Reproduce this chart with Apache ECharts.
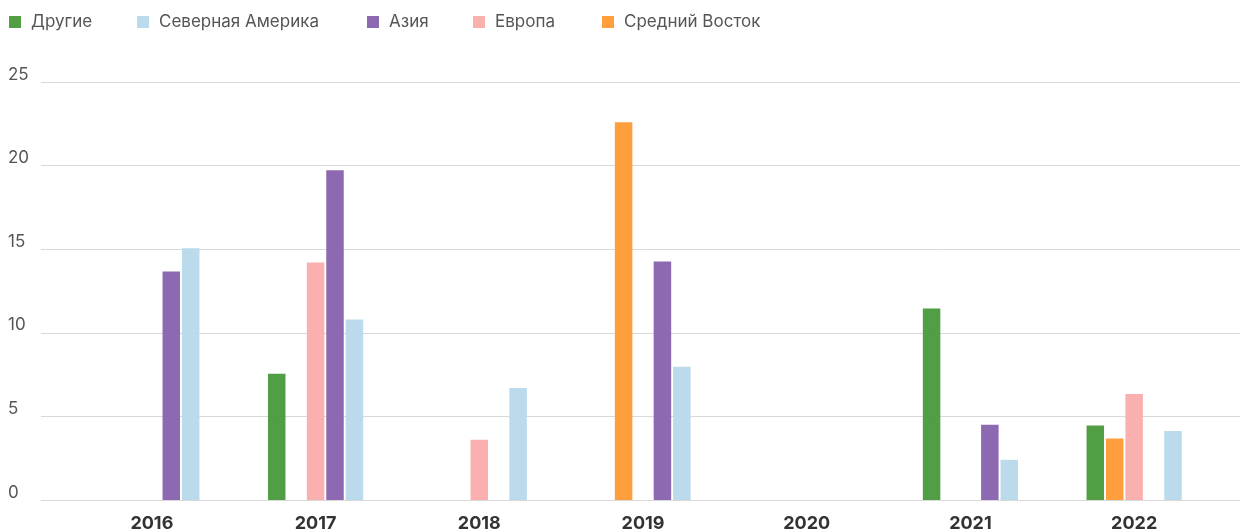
<!DOCTYPE html>
<html><head><meta charset="utf-8">
<script src="https://cdn.jsdelivr.net/npm/echarts@6/dist/echarts.min.js"></script>
<style>html,body{margin:0;padding:0;background:#fff}#c{width:1240px;height:531px}</style>
</head><body><div id="c"></div><script>
const categories = ['2016','2017','2018','2019','2020','2021','2022'];
const other        = [null, 7.55, null, null, null, 11.45, 4.45];
const middleEast   = [null, null, null, 22.6, null, null, 3.68];
const europe       = [null, 14.2, 3.6, null, null, null, 6.34];
const asia         = [13.67, 19.72, null, 14.27, null, 4.5, null];
const northAmerica = [15.05, 10.8, 6.7, 7.97, null, 2.4, 4.12];
const yMin = 0, yMax = 25, yStep = 5;

const FONT = 'Inter';
const names = {other:'Другие', na:'Северная Америка', asia:'Азия', eu:'Европа', me:'Средний Восток'};
const colors = {other:'#4a9a3d', na:'#b8d8ea', asia:'#8763ad', eu:'#fbadad', me:'#ff9a35'};

function legend(name, left){
  return {data:[name], left:left, top:9, itemWidth:12, itemHeight:12, icon:'rect', selectedMode:false, padding:0,
    textStyle:{fontFamily:FONT, fontSize:17, color:'#555', lineHeight:26, padding:[0,0,0,5]}};
}
function bar(key, data){
  return {name:names[key], type:'bar', xAxisIndex:1, yAxisIndex:1, data:data,
    barWidth:17.5, barGap:'11%',
    itemStyle:{color:colors[key], opacity:0.96}};
}
const chart = echarts.init(document.getElementById('c'), null, {renderer:'canvas'});
chart.setOption({
  animation:false,
  legend:[legend(names.other,9), legend(names.na,137), legend(names.asia,367), legend(names.eu,473), legend(names.me,602)],
  grid:[{left:41, right:0, top:82, bottom:31, containLabel:false, outerBoundsMode:'none'},
        {left:70, right:24, top:82, bottom:31, containLabel:false, outerBoundsMode:'none'}],
  xAxis:[
    {type:'category', gridIndex:0, data:categories, show:false},
    {type:'category', gridIndex:1, data:categories, axisLine:{show:false}, axisTick:{show:false},
     axisLabel:{fontFamily:FONT, fontSize:18, fontWeight:'bold', color:'#333', margin:15}}
  ],
  yAxis:[
    {type:'value', gridIndex:0, min:yMin, max:yMax, interval:yStep,
     axisLine:{show:false}, axisTick:{show:false},
     splitLine:{lineStyle:{color:'#d9d9d9', width:1}},
     axisLabel:{fontFamily:FONT, fontSize:17, color:'#555', align:'left', margin:33, verticalAlign:'bottom', padding:[0,0,-1,0]}},
    {type:'value', gridIndex:1, min:yMin, max:yMax, interval:yStep, show:false, splitLine:{show:false}}
  ],
  series:[bar('other',other), bar('me',middleEast), bar('eu',europe), bar('asia',asia), bar('na',northAmerica)]
});
</script></body></html>
